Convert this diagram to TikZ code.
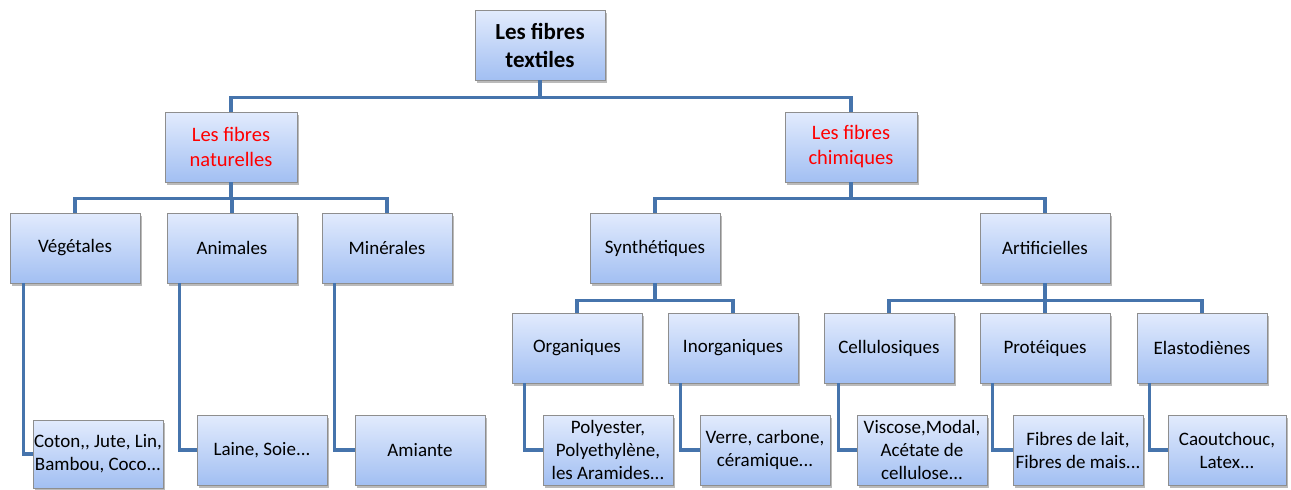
\documentclass[tikz,border=0pt]{standalone}
\usepackage{fontspec}
\setmainfont{Carlito}
\usetikzlibrary{calc,shadows}
\definecolor{boxtop}{HTML}{E2EBFD}
\definecolor{boxbot}{HTML}{A2BFF2}
\definecolor{boxedge}{HTML}{8E8E8E}
\definecolor{linkblue}{HTML}{4674AC}
\tikzset{
  fbox/.style={draw=boxedge, line width=0.8pt, top color=boxtop, bottom color=boxbot,
    minimum width=130pt, minimum height=70pt, inner sep=1pt, align=center,
    font=\fontsize{19}{23}\selectfont,
    drop shadow={shadow xshift=2pt, shadow yshift=-3pt, fill=black!60, opacity=0.45}},
  rootbox/.style={fbox, font=\bfseries\fontsize{23}{28}\selectfont},
  redbox/.style={fbox, minimum width=132pt, text=red, font=\fontsize{20.5}{25}\selectfont},
  link/.style={draw=linkblue, line width=3.6pt, line cap=butt, line join=miter},
}
\begin{document}
\begin{tikzpicture}[x=1pt,y=-1pt]
\useasboundingbox (0,0) rectangle (1291,490);
% level 0
\node[rootbox] (root) at (540,45) {Les fibres\\textiles};
% level 1
\node[redbox] (nat) at (231,147) {Les fibres\\naturelles};
\node[redbox] (chim) at (851,147) {Les fibres\\chimiques};
% level 2
\node[fbox] (veg) at (75,248) {Végétales};
\node[fbox] (ani) at (232,248) {Animales};
\node[fbox] (min) at (387,248) {Minérales};
\node[fbox] (syn) at (655,248) {Synthétiques};
\node[fbox] (art) at (1045,248) {Artificielles};
% level 3
\node[fbox] (org) at (577,348) {Organiques};
\node[fbox] (inorg) at (733,348) {Inorganiques};
\node[fbox] (cell) at (889,348) {Cellulosiques};
\node[fbox] (prot) at (1045,348) {Protéiques};
\node[fbox] (elas) at (1202,348) {Elastodiènes};
% leaves
\node[fbox, minimum height=68pt] (coton) at (98,454) {Coton,{},{} Jute, Lin,\\Bambou, Coco...};
\node[fbox] (laine) at (262,450) {Laine, Soie...};
\node[fbox] (amia) at (420,450) {Amiante};
\node[fbox] (poly) at (608,450) {Polyester,\\Polyethylène,\\les Aramides...};
\node[fbox] (verre) at (765,450) {Verre, carbone,\\céramique...};
\node[fbox] (visc) at (922,450) {Viscose,Modal,\\Acétate de\\cellulose...};
\node[fbox] (lait) at (1078,450) {Fibres de lait,\\Fibres de mais...};
\node[fbox, minimum width=118pt] (caou) at (1227,450) {Caoutchouc,\\Latex...};
% connectors
\draw[link] (root.south) -- ++(0,17) -| (nat.north);
\draw[link] (root.south) -- ++(0,17) -| (chim.north);
\draw[link] (nat.south) -- ++(0,16) -| (veg.north);
\draw[link] (nat.south) -- ++(0,16) -| (ani.north);
\draw[link] (nat.south) -- ++(0,16) -| (min.north);
\draw[link] (chim.south) -- ++(0,16) -| (syn.north);
\draw[link] (chim.south) -- ++(0,16) -| (art.north);
\draw[link] (syn.south) -- ++(0,17) -| (org.north);
\draw[link] (syn.south) -- ++(0,17) -| (inorg.north);
\draw[link] (art.south) -- ++(0,17) -| (cell.north);
\draw[link] (art.south) -- ++(0,17) -| (prot.north);
\draw[link] (art.south) -- ++(0,17) -| (elas.north);
\draw[link] ($(veg.south west)+(14,0)$) |- (coton.west);
\draw[link] ($(ani.south west)+(13,0)$) |- (laine.west);
\draw[link] ($(min.south west)+(13,0)$) |- (amia.west);
\draw[link] ($(org.south west)+(13,0)$) |- (poly.west);
\draw[link] ($(inorg.south west)+(13,0)$) |- (verre.west);
\draw[link] ($(cell.south west)+(15,0)$) |- (visc.west);
\draw[link] ($(prot.south west)+(13,0)$) |- (lait.west);
\draw[link] ($(elas.south west)+(13,0)$) |- (caou.west);
\end{tikzpicture}
\end{document}
